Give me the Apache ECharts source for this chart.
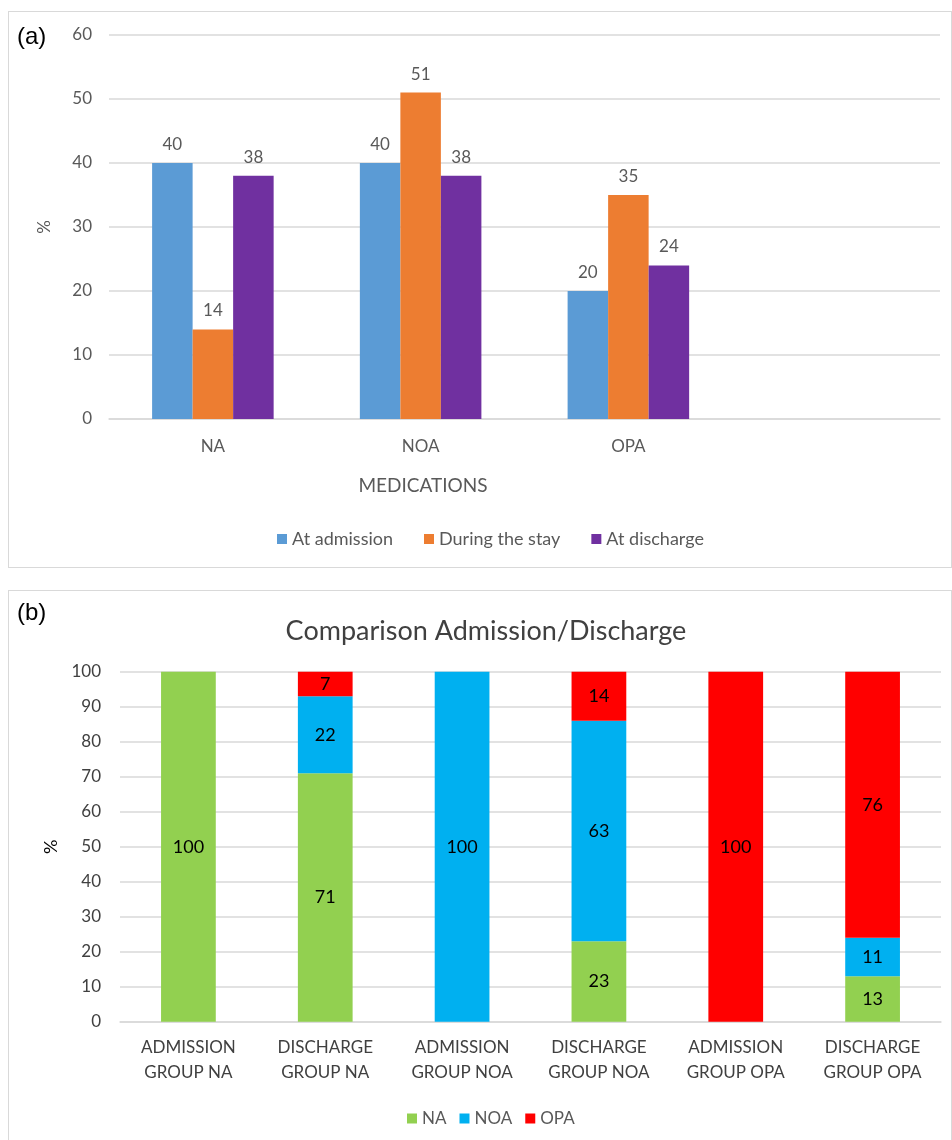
<!DOCTYPE html>
<html>
<head>
<meta charset="utf-8">
<script src="https://cdn.jsdelivr.net/npm/echarts@6/dist/echarts.min.js"></script>
<style>
  html, body { margin: 0; padding: 0; background: #fff; }
  body { width: 952px; height: 1140px; position: relative; overflow: hidden; }
  .panel { position: absolute; border: 1px solid #d9d9d9; background: #fff; }
  #panelA { left: 8px; top: 11px; width: 942px; height: 555px; }
  #panelB { left: 8px; top: 590px; width: 942px; height: 560px; }
</style>
</head>
<body>
<div id="panelA" class="panel"></div>
<div id="panelB" class="panel"></div>
<script>
// Panel (a): share of patients on each medication class over the hospital stay
const medications = ['NA', 'NOA', 'OPA', ''];
const atAdmission = [40, 40, 20];
const duringStay = [14, 51, 35];
const atDischarge = [38, 38, 24];
const yTicksA = [0, 10, 20, 30, 40, 50, 60];

// Panel (b): composition of each group at admission vs discharge
const groups = [
  'ADMISSION\nGROUP NA', 'DISCHARGE\nGROUP NA',
  'ADMISSION\nGROUP NOA', 'DISCHARGE\nGROUP NOA',
  'ADMISSION\nGROUP OPA', 'DISCHARGE\nGROUP OPA'
];
const shareNA = [100, 71, 0, 23, 0, 13];
const shareNOA = [0, 22, 100, 63, 0, 11];
const shareOPA = [0, 7, 0, 14, 100, 76];
const yTicksB = [0, 10, 20, 30, 40, 50, 60, 70, 80, 90, 100];

const FONT = 'Lato, "Open Sans", sans-serif';
const GRAY = '#595959';
const DARK = '#404040';
const GRID_LINE = '#d9d9d9';

// ---------- Panel (a) ----------
const chartA = echarts.init(document.getElementById('panelA'), null, { renderer: 'canvas' });
const barA = (name, data, color) => ({
  name, type: 'bar', data,
  barGap: '0%', barCategoryGap: '41.5%',
  itemStyle: { color },
  label: { show: true, position: 'top', distance: 10, color: GRAY, fontSize: 17, fontFamily: FONT }
});
chartA.setOption({
  animation: false,
  textStyle: { fontFamily: FONT },
  title: [
    { text: '(a)', left: 3, top: 8, textStyle: { fontFamily: 'Liberation Sans, Arial, sans-serif', fontSize: 24, fontWeight: 'normal', color: '#000' } },
    { text: 'MEDICATIONS', left: 409, top: 459, textAlign: 'center', textStyle: { fontFamily: FONT, fontSize: 19, fontWeight: 'normal', color: GRAY } }
  ],
  grid: { left: 100, top: 23, width: 831, height: 384, containLabel: false },
  legend: {
    left: 263, top: 513, itemWidth: 10, itemHeight: 10, itemGap: 31, icon: 'rect',
    textStyle: { color: GRAY, fontSize: 18, fontFamily: FONT },
    data: ['At admission', 'During the stay', 'At discharge']
  },
  xAxis: {
    type: 'category', data: medications,
    axisLine: { lineStyle: { color: GRID_LINE, width: 1.5 } },
    axisTick: { show: false },
    axisLabel: { color: GRAY, fontSize: 17, margin: 19, fontFamily: FONT }
  },
  yAxis: {
    type: 'value', min: yTicksA[0], max: yTicksA[yTicksA.length - 1], interval: 10,
    name: '%', nameLocation: 'middle', nameGap: 56, nameRotate: 90,
    nameTextStyle: { color: GRAY, fontSize: 17, fontFamily: FONT },
    axisLine: { show: false }, axisTick: { show: false },
    axisLabel: { color: GRAY, fontSize: 17, margin: 17, fontFamily: FONT },
    splitLine: { lineStyle: { color: GRID_LINE, width: 1.5 } }
  },
  series: [
    barA('At admission', atAdmission, '#5b9bd5'),
    barA('During the stay', duringStay, '#ed7d31'),
    barA('At discharge', atDischarge, '#7030a0')
  ]
});

// ---------- Panel (b) ----------
const chartB = echarts.init(document.getElementById('panelB'), null, { renderer: 'canvas' });
const barB = (name, data, color) => ({
  name, type: 'bar', stack: 'share', data,
  barCategoryGap: '60%',
  itemStyle: { color },
  label: {
    show: true, position: 'inside', color: '#000', fontSize: 18, fontFamily: FONT,
    formatter: p => (p.value > 0 ? p.value : '')
  }
});
chartB.setOption({
  animation: false,
  textStyle: { fontFamily: FONT },
  title: [
    { text: '(b)', left: 3, top: 5, textStyle: { fontFamily: 'Liberation Sans, Arial, sans-serif', fontSize: 24, fontWeight: 'normal', color: '#000' } },
    { text: 'Comparison Admission/Discharge', left: 472, top: 22, textAlign: 'center', textStyle: { fontFamily: FONT, fontSize: 27, fontWeight: 'normal', color: DARK } }
  ],
  grid: { left: 111, top: 80.7, width: 821, height: 350, containLabel: false },
  legend: {
    left: 393, top: 514, itemWidth: 10, itemHeight: 10, itemGap: 13, icon: 'rect',
    textStyle: { color: GRAY, fontSize: 17, fontFamily: FONT },
    data: ['NA', 'NOA', 'OPA']
  },
  xAxis: {
    type: 'category', data: groups,
    axisLine: { lineStyle: { color: GRID_LINE, width: 1.5 } },
    axisTick: { show: false },
    axisLabel: { color: DARK, fontSize: 17, margin: 13, lineHeight: 25, fontFamily: FONT }
  },
  yAxis: {
    type: 'value', min: yTicksB[0], max: yTicksB[yTicksB.length - 1], interval: 10,
    name: '%', nameLocation: 'middle', nameGap: 54, nameRotate: 90,
    nameTextStyle: { color: '#000', fontSize: 18, fontFamily: FONT },
    axisLine: { show: false }, axisTick: { show: false },
    axisLabel: { color: DARK, fontSize: 17, margin: 19, fontFamily: FONT },
    splitLine: { lineStyle: { color: GRID_LINE, width: 1.5 } }
  },
  series: [
    barB('NA', shareNA, '#92d050'),
    barB('NOA', shareNOA, '#00b0f0'),
    barB('OPA', shareOPA, '#ff0000')
  ]
});
</script>
</body>
</html>
